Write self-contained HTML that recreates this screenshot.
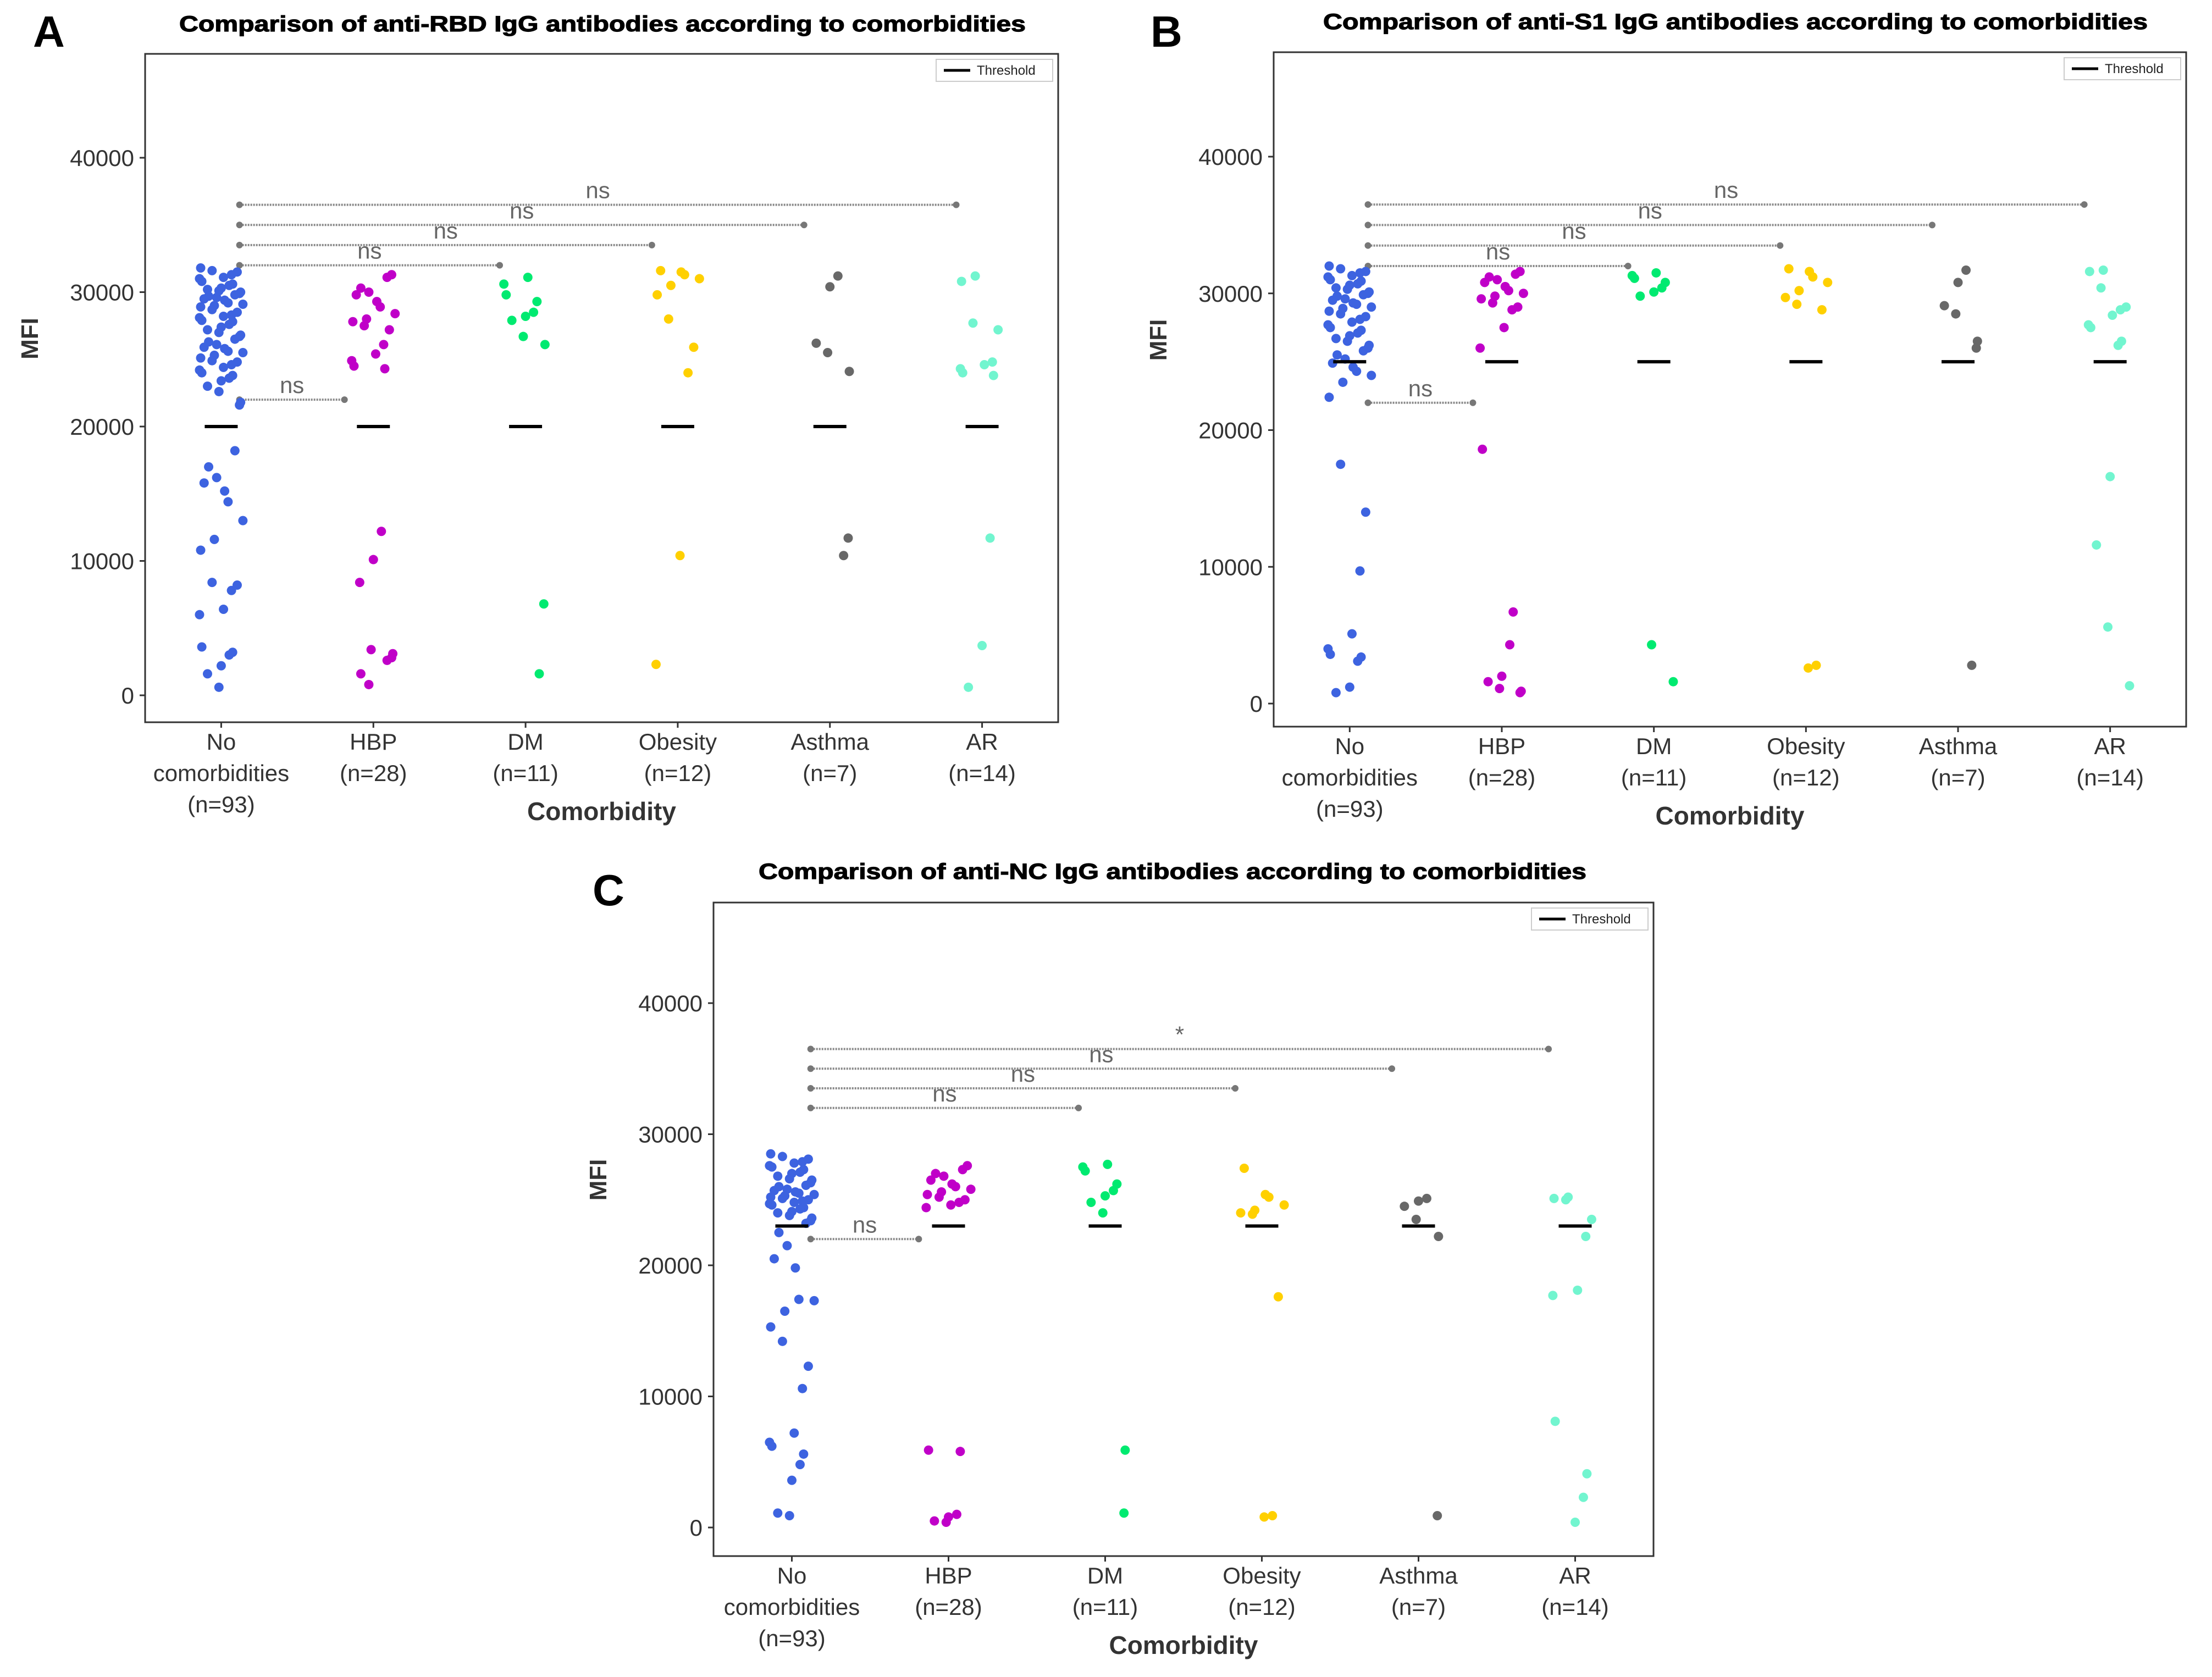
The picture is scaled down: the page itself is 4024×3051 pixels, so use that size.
<!DOCTYPE html>
<html><head><meta charset="utf-8"><style>
html,body{margin:0;padding:0;background:#fff;}
svg{display:block;font-family:"Liberation Sans",sans-serif;}
</style></head><body>
<svg id="fig" width="4024" height="3051" viewBox="0 0 4024 3051" xmlns="http://www.w3.org/2000/svg"></svg>
<script>
const categories = ["No|comorbidities|(n=93)","HBP|(n=28)","DM|(n=11)","Obesity|(n=12)","Asthma|(n=7)","AR|(n=14)"];
const yTicks = [0,10000,20000,30000,40000];
const thresholdA = 20000, thresholdB = 25000, thresholdC = 23000;
const bracketEnds = [1,2,3,4,5];
const bracketLevels = [32000,33500,35000,36500];
const labelsA = ["ns","ns","ns","ns"], labelsB = ["ns","ns","ns","ns"], labelsC = ["ns","ns","ns","*"];
const lowBracketLevel = 22000;

// Panel A values (thousands MFI)
const A_no = [31.8,31.6,31.5,31.3,31.1,31,30.8,30.6,30.5,30.3,30.2,30.1,30,29.9,29.8,29.7,29.6,29.5,29.4,29.2,29.1,29,28.9,28.7,28.5,28.3,28.2,28.1,27.9,27.8,27.6,27.4,27.2,27,26.8,26.7,26.5,26.3,26.1,25.9,25.8,25.6,25.5,25.3,25.1,24.9,24.8,24.6,24.4,24.2,24,23.8,23.6,23.4,23,22.6,21.8,21.6,18.2,17,16.2,15.8,15.2,14.4,13,11.6,10.8,8.4,8.2,7.8,6.4,6,3.6,3.2,3,2.2,1.6,0.6];
const A_hbp = [31.3,31.1,30.3,30,29.8,29.3,28.9,28.4,28,27.8,27.5,27.2,26.1,25.4,24.9,24.5,24.3,12.2,10.1,8.4,3.4,3.1,2.8,2.6,1.6,0.8];
const A_dm = [31.1,30.6,29.8,29.3,28.5,28.2,27.9,26.7,26.1,6.8,1.6];
const A_ob = [31.6,31.5,31.3,31,30.5,29.8,28,25.9,24,10.4,2.3];
const A_as = [31.2,30.4,26.2,25.5,24.1,11.7,10.4];
const A_ar = [31.2,30.8,27.7,27.2,24.8,24.6,24.3,24,23.8,11.7,3.7,0.6];
// Panel B
const B_no = [32,31.8,31.6,31.5,31.3,31.2,31,30.9,30.7,30.6,30.4,30.3,30.1,30,29.9,29.8,29.6,29.5,29.3,29.2,29,28.9,28.7,28.5,28.3,28.1,27.9,27.7,27.5,27.3,27.1,26.9,26.7,26.5,26.2,26,25.8,25.5,25.2,24.9,24.6,24.3,24,23.5,22.4,17.5,14,9.7,5.1,4,3.6,3.4,3.1,1.2,0.8];
const B_hbp = [31.6,31.4,31.2,31,30.8,30.5,30.2,30,29.8,29.6,29.3,29,28.8,27.5,26,18.6,6.7,4.3,2,1.6,1.1,0.9,0.8];
const B_dm = [31.5,31.3,31.1,30.8,30.4,30.1,29.8,4.3,1.6];
const B_ob = [31.8,31.6,31.2,30.8,30.2,29.7,29.2,28.8,2.8,2.6];
const B_as = [31.7,30.8,29.1,28.5,26.5,26,2.8];
const B_ar = [31.7,31.6,30.4,29,28.8,28.4,27.7,27.5,26.5,26.2,16.6,11.6,5.6,1.3];
// Panel C
const C_no = [28.5,28.3,28.1,27.9,27.8,27.6,27.5,27.3,27.1,27,26.8,26.6,26.5,26.3,26.1,26,25.8,25.7,25.6,25.5,25.4,25.3,25.2,25.1,25,24.9,24.8,24.7,24.6,24.4,24.3,24.1,24,23.8,23.6,23.4,23.2,22.5,21.5,20.5,19.8,17.4,17.3,16.5,15.3,14.2,12.3,10.6,7.2,6.5,6.2,5.6,4.8,3.6,1.1,0.9];
const C_hbp = [27.6,27.3,27,26.8,26.5,26.2,26,25.8,25.6,25.4,25.2,25,24.8,24.6,24.4,5.9,5.8,1,0.8,0.5,0.4];
const C_dm = [27.7,27.5,27.2,26.2,25.7,25.3,24.8,24,5.9,1.1];
const C_ob = [27.4,25.4,25.2,24.6,24.2,24,23.9,17.6,0.9,0.8];
const C_as = [25.1,24.9,24.5,23.5,22.2,0.9];
const C_ar = [25.2,25.1,25,23.5,22.2,18.1,17.7,8.1,4.1,2.3,0.4];

const colors = ["#3d63e0","#c000c8","#00ea70","#ffd000","#686868","#72f5cf"];
const jitterPattern = [-0.9,0.3,-0.2,0.8,-0.6,0.5,0.1,-0.4,0.95,-0.75,0.6,-0.1,0.35,-0.95,0.7,-0.3,0.15,-0.55,0.85,0.0,-0.85,0.45];

const NS="http://www.w3.org/2000/svg";
const svg=document.getElementById('fig');
function mk(tag,attrs,parent){const e=document.createElementNS(NS,tag);for(const k in attrs)e.setAttribute(k,attrs[k]);(parent||svg).appendChild(e);return e;}

function panel(cfg){
  const g=mk('g',{});
  
  
  const W=cfg.R-cfg.L, step=W/6;
  const xc=i=>cfg.L+step*(i+0.5);
  const ys=v=>cfg.y0-(v/40000)*(cfg.y0-cfg.y40);
  const frame=mk('rect',{x:cfg.L,y:cfg.T,width:W,height:cfg.B-cfg.T,fill:'none',stroke:'#333',"stroke-width":3},g);
  
  
  const t=mk('text',{x:cfg.tx,y:cfg.ty,"text-anchor":"middle","font-size":40,"font-weight":"bold",fill:"#000",stroke:"#000","stroke-width":1.2,textLength:cfg.tw,lengthAdjust:"spacingAndGlyphs"},g);
  t.textContent=cfg.title;
  
  
  const lt=mk('text',{x:cfg.lx,y:cfg.ly,"font-size":80,"font-weight":"bold",fill:"#000"},g);
  lt.textContent=cfg.letter;
  
  
  yTicks.forEach(v=>{
    const y=ys(v);
    mk('line',{x1:cfg.L-10,x2:cfg.L,y1:y,y2:y,stroke:'#333',"stroke-width":3},g);
    const tl=mk('text',{x:cfg.L-20,y:y+15,"text-anchor":"end","font-size":42,fill:"#333"},g);
    tl.textContent=v;
    
    
  });
  const yl=mk('text',{x:0,y:0,transform:`translate(${cfg.L-195},${(cfg.T+cfg.B)/2-90}) rotate(-90)`,"text-anchor":"middle","font-size":44,"font-weight":"bold",fill:"#333"},g);
  yl.textContent="MFI";
  
  
  categories.forEach((c,i)=>{
    mk('line',{x1:xc(i),x2:xc(i),y1:cfg.B,y2:cfg.B+10,stroke:'#333',"stroke-width":3},g);
    c.split('|').forEach((ln,j)=>{
      const tx=mk('text',{x:xc(i),y:cfg.B+50+j*57,"text-anchor":"middle","font-size":42,fill:"#333"},g);
      tx.textContent=ln;
      
      
    });
  });
  const xl=mk('text',{x:(cfg.L+cfg.R)/2,y:cfg.B+178,"text-anchor":"middle","font-size":46,"font-weight":"bold",fill:"#333"},g);
  xl.textContent="Comorbidity";
  
  
  const lg=mk('g',{},g);
  
  
  mk('rect',{x:cfg.R-222,y:cfg.T+10,width:212,height:40,fill:'#fff',stroke:'#ccc',"stroke-width":2},lg);
  mk('line',{x1:cfg.R-208,x2:cfg.R-160,y1:cfg.T+30,y2:cfg.T+30,stroke:'#000',"stroke-width":5},lg);
  const lgt=mk('text',{x:cfg.R-148,y:cfg.T+38,"font-size":24,fill:'#222'},lg);
  lgt.textContent="Threshold";
  function bracket(x1,x2,lvl,label){
    const y=ys(lvl);
    const bl=mk('line',{x1:x1,x2:x2,y1:y,y2:y,stroke:'#888',"stroke-width":4,"stroke-dasharray":"3 2"},g);
    
    
    mk('circle',{cx:x1,cy:y,r:6,fill:'#777'},g);
    mk('circle',{cx:x2,cy:y,r:6,fill:'#777'},g);
    const bt=mk('text',{x:(x1+x2)/2,y:y-12,"text-anchor":"middle","font-size":42,fill:'#666'},g);
    bt.textContent=label;
    
    
  }
  bracketLevels.forEach((lvl,k)=>bracket(xc(0)+step*0.12,xc(bracketEnds[k+1])-step*0.17,lvl,cfg.labels[k]));
  bracket(xc(0)+step*0.12,xc(1)-step*0.19,lowBracketLevel,"ns");
  cfg.groups.forEach((arr,i)=>{
    arr.forEach((v,j)=>{
      const jit=jitterPattern[(j*7+i*3)%jitterPattern.length];
      const c=mk('circle',{cx:xc(i)+jit*step*0.15,cy:ys(v*1000),r:8.5,fill:colors[i]},g);
      
      
    });
    const ty=ys(cfg.thr);
    const th=mk('line',{x1:xc(i)-30,x2:xc(i)+30,y1:ty,y2:ty,stroke:'#000',"stroke-width":6},g);
    
    
  });
}
panel({id:'rbd',letter:'A',lx:60,ly:85,tx:1096,ty:57,tw:1540,title:'Comparison of anti-RBD IgG antibodies according to comorbidities',
  L:264,R:1925,T:98,B:1314,y0:1265,y40:287,thr:thresholdA,labels:labelsA,groups:[A_no,A_hbp,A_dm,A_ob,A_as,A_ar]});
panel({id:'s1',letter:'B',lx:2093,ly:85,tx:3157,ty:53,tw:1500,title:'Comparison of anti-S1 IgG antibodies according to comorbidities',
  L:2317,R:3977,T:95,B:1322,y0:1280,y40:285,thr:thresholdB,labels:labelsB,groups:[B_no,B_hbp,B_dm,B_ob,B_as,B_ar]});
panel({id:'nc',letter:'C',lx:1078,ly:1647,tx:2133,ty:1599,tw:1506,title:'Comparison of anti-NC IgG antibodies according to comorbidities',
  L:1298,R:3008,T:1642,B:2831,y0:2779,y40:1825,thr:thresholdC,labels:labelsC,groups:[C_no,C_hbp,C_dm,C_ob,C_as,C_ar]});
</script>
</body></html>
